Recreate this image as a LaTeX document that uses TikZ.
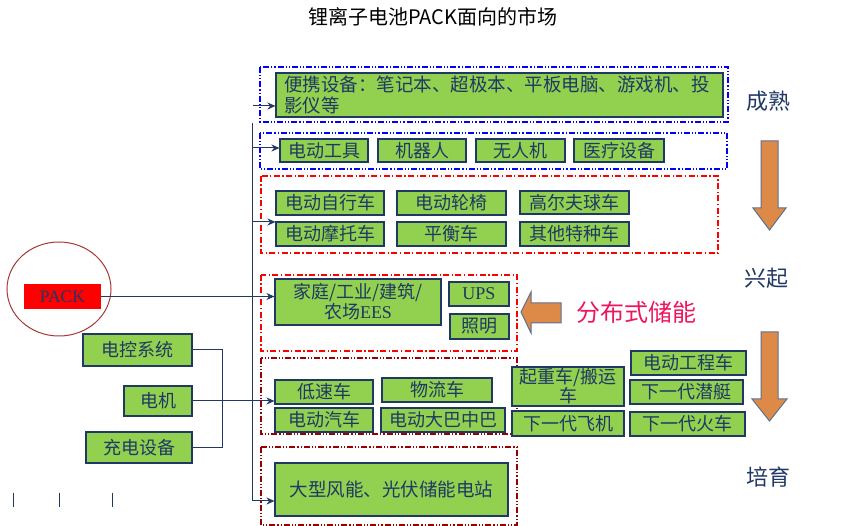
\documentclass[tikz,border=0pt]{standalone}
\usepackage{fontspec}
\setmainfont{Noto Sans CJK SC}
\newfontfamily\lser{Liberation Serif}
\usetikzlibrary{arrows.meta}

\definecolor{gfill}{HTML}{92D050}
\definecolor{navy}{HTML}{1F3864}
\definecolor{org}{HTML}{DD8A48}
\definecolor{orgb}{HTML}{5B7193}
\definecolor{dred}{HTML}{990000}
\definecolor{pinkred}{HTML}{EE1560}
\definecolor{ellb}{HTML}{A33A33}

\tikzset{
  gbox/.style={draw=navy, line width=1.1pt, fill=gfill, text=navy,
    font=\fontsize{18}{20}\selectfont, inner sep=0pt, align=center},
  bluegrp/.style={draw=blue, line width=1.1pt,
    dash pattern=on 6pt off 2pt on 1.2pt off 2pt on 1.2pt off 2pt},
  redgrp/.style={draw=red, line width=1.1pt,
    dash pattern=on 6pt off 2.5pt on 1.2pt off 2.5pt},
  dredgrp/.style={draw=dred, line width=1.1pt,
    dash pattern=on 6pt off 2pt on 1.2pt off 2pt on 1.2pt off 2pt},
  conn/.style={draw=navy, line width=1pt},
  arr/.style={conn, -{Stealth[length=8pt,width=7pt]}},
  bigarrow/.style={fill=org, draw=orgb, line width=1pt},
  stage/.style={text=navy, font=\fontsize{22}{24}\selectfont},
}

\begin{document}
\begin{tikzpicture}[x=1pt,y=-1pt]
\useasboundingbox[fill=white] (0,0) rectangle (860,526);

% title
\node[font=\fontsize{20}{22}\selectfont] (title) at (433,17) {锂离子电池PACK面向的市场};

% group frames
\draw[bluegrp] (260,67) rectangle (728,122);
\draw[bluegrp] (260,133) rectangle (727,169);
\draw[redgrp] (261,176) rectangle (718,253);
\draw[redgrp] (261,275) rectangle (517,351);
\draw[dredgrp] (261,358) rectangle (517,434);
\draw[dredgrp] (261,447) rectangle (517,525);

% group 1
\node[gbox, minimum width=447pt, minimum height=44pt, text width=431pt, align=left,
  font=\fontsize{18.5}{21}\selectfont] (g1) at (499.5,95)
  {便携设备：笔记本、超极本、平板电脑、游戏机、投\\影仪等};

% group 2
\node[gbox, minimum width=88pt, minimum height=23pt] (b21) at (324,150.5) {电动工具};
\node[gbox, minimum width=88pt, minimum height=23pt] (b22) at (422,150.5) {机器人};
\node[gbox, minimum width=89pt, minimum height=23pt] (b23) at (520.5,150.5) {无人机};
\node[gbox, minimum width=90pt, minimum height=23pt] (b24) at (619,150.5) {医疗设备};

% group 3
\node[gbox, minimum width=108pt, minimum height=24pt] (b31) at (330,203) {电动自行车};
\node[gbox, minimum width=108pt, minimum height=24pt] (b32) at (330,234) {电动摩托车};
\node[gbox, minimum width=109pt, minimum height=24pt] (b33) at (451.5,203) {电动轮椅};
\node[gbox, minimum width=109pt, minimum height=24pt] (b34) at (451.5,234) {平衡车};
\node[gbox, minimum width=109pt, minimum height=23pt] (b35) at (574.5,202.5) {高尔夫球车};
\node[gbox, minimum width=109pt, minimum height=24pt] (b36) at (574.5,234) {其他特种车};

% group 4
\node[gbox, minimum width=166pt, minimum height=46pt] (fam) at (358,302)
  {家庭/工业/建筑/\\农场{\lser EES}};
\node[gbox, minimum width=60pt, minimum height=24pt] (ups) at (479,294) {\lser UPS};
\node[gbox, minimum width=59pt, minimum height=25pt] (zm) at (479.5,326.5) {照明};

% group 5
\node[gbox, minimum width=98pt, minimum height=24pt] (ls) at (324,392) {低速车};
\node[gbox, minimum width=98pt, minimum height=24pt] (qc) at (324,420) {电动汽车};
\node[gbox, minimum width=110pt, minimum height=24pt] (wl) at (437,390) {物流车};
\node[gbox, minimum width=124pt, minimum height=24pt] (db) at (443,420) {电动大巴中巴};
\node[gbox, minimum width=112pt, minimum height=39pt, font=\fontsize{18}{19}\selectfont] (qz) at (568,386.5) {起重车/搬运\\车};
\node[gbox, minimum width=112pt, minimum height=25pt] (fj) at (568,423.5) {下一代飞机};
\node[gbox, minimum width=115pt, minimum height=24pt] (gc) at (688.5,363) {电动工程车};
\node[gbox, minimum width=113pt, minimum height=24pt] (qt) at (686.5,392) {下一代潜艇};
\node[gbox, minimum width=115pt, minimum height=24pt] (hc) at (687.5,424) {下一代火车};

% group 6
\node[gbox, minimum width=233pt, minimum height=53pt, font=\fontsize{18.5}{20}\selectfont] (g6) at (391.5,489.5) {大型风能、光伏储能电站};

% left side
\draw[ellb, line width=1pt] (59,289) ellipse [x radius=52pt, y radius=47pt];
\node[fill=red, minimum width=77pt, minimum height=25pt, inner sep=0pt, text=navy,
  font=\lser\fontsize{17.5}{19}\selectfont] (pack) at (62.5,296.5) {PACK};

\node[gbox, minimum width=109pt, minimum height=32pt] (dk) at (137.5,350) {电控系统};
\node[gbox, minimum width=68pt, minimum height=30pt] (dj) at (158,401) {电机};
\node[gbox, minimum width=106pt, minimum height=31pt] (cd) at (139,447.5) {充电设备};

\draw[conn] (dk.east) -- (222,350) -- (222,447.5) -- (cd.east);

% connectors
\coordinate (a1) at (253,106);
\draw[arr] (a1) -- (a1 -| g1.west);
\coordinate (t0) at (252,123);
\coordinate (t1) at (252,501);
\draw[arr] (t0) -- (t1) -- (t1 -| g6.west);
\coordinate (t2) at (252,148);
\draw[arr] (t2) -- (t2 -| b21.west);
\coordinate (t3) at (252,222);
\draw[arr] (t3) -- (t3 -| b32.west);
\draw[arr] (pack.east) -- (pack.east -| fam.west);
\draw[arr] (dj.east) -- (dj.east -| ls.west);

% ticks bottom left
\foreach \x in {13,59,112} \draw[navy, line width=0.8pt] (\x,493) -- (\x,507);

% big arrows
\draw[bigarrow] (521,312) -- (531,292) -- (531,303) -- (561,303) -- (561,323) -- (531,323) -- (531,333) -- cycle;
\draw[bigarrow] (761,141) -- (778,141) -- (778,208) -- (786,208) -- (769.5,230) -- (753,208) -- (761,208) -- cycle;
\draw[bigarrow] (761,332) -- (778,332) -- (778,399) -- (787,399) -- (769.5,421) -- (752,399) -- (761,399) -- cycle;

\node[text=pinkred, font=\fontsize{24}{26}\selectfont] (fbs) at (636,312) {分布式储能};

% stage labels
\node[stage] (s1) at (768,101) {成熟};
\node[stage] (s2) at (766,278) {兴起};
\node[stage] (s3) at (768,477) {培育};
\end{tikzpicture}
\end{document}
